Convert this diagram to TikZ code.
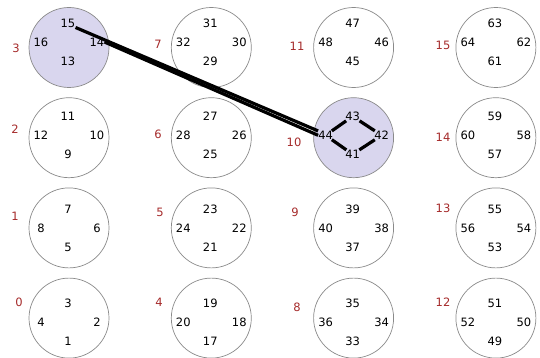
\documentclass[tikz,border=0pt]{standalone}
\usepackage{fontspec}
\setmainfont{DejaVu Sans}
\definecolor{GridRing}{HTML}{8A8A8A}
\definecolor{GridGroup}{HTML}{A52A2A}
\definecolor{GridPick}{HTML}{D9D6EE}
\pgfdeclarelayer{bottom}
\pgfdeclarelayer{links}
\pgfsetlayers{bottom,links,main}
\tikzset{
  grid ring/.style={circle, draw=GridRing, line width=.7pt, minimum size=80pt, inner sep=0pt},
  grid num/.style={font=\fontsize{11.5}{13}\selectfont, text=black, inner sep=0pt},
  grid group/.style={font=\fontsize{11.5}{13}\selectfont, text=GridGroup, inner sep=0pt},
  grid link/.style={draw=black, line width=3.2pt},
}

\begin{document}
\begin{tikzpicture}[x=1pt,y=-1pt]
  \useasboundingbox (0,0) rectangle (540,358);

  % Sixteen rings, four numbers each: bottom, right, top, left.
  \foreach \g in {0,...,15} {
    \pgfmathtruncatemacro\col{\g/4}
    \pgfmathtruncatemacro\row{3-mod(\g,4)}
    \pgfmathsetmacro\cx{69+142.3*\col}
    \pgfmathsetmacro\cy{47.5+90.2*\row}
    \pgfmathsetmacro\ly{42+93.3*\row}
    \pgfmathtruncatemacro\nb{4*\g+1}
    \pgfmathtruncatemacro\nr{4*\g+2}
    \pgfmathtruncatemacro\nt{4*\g+3}
    \pgfmathtruncatemacro\nl{4*\g+4}
    \ifnum\g=3 \def\ringfill{GridPick}\else\ifnum\g=10 \def\ringfill{GridPick}\else\def\ringfill{none}\fi\fi
    \begin{pgfonlayer}{bottom}
      \node[grid ring, fill=\ringfill] (g\g) at (\cx,\cy) {};
    \end{pgfonlayer}
    \node[grid num] (n\nb) at (\cx-1,\ly+19) {\nb};
    \node[grid num] (n\nr) at (\cx+28,\ly) {\nr};
    \node[grid num] (n\nt) at (\cx-1,\ly-19) {\nt};
    \node[grid num] (n\nl) at (\cx-28,\ly) {\nl};
  }

  % Group indices beside the rings.
  \foreach \g/\x/\y in {0/19/302, 1/15/216, 2/15/129, 3/16/48,
                        4/159/302, 5/160/212, 6/158/134, 7/158/44,
                        8/297/307, 9/295/212, 10/294/142, 11/297/46,
                        12/443/302, 13/443/208, 14/443/137, 15/443/45}
    \node[grid group] (lab\g) at (\x,\y) {\g};

  % Selected links.
  \begin{pgfonlayer}{links}
    \draw[grid link] (n15.south east) -- (n44.north west);
    \draw[grid link] (n14.east) -- (n44.west);
    \foreach \a/\b in {44/43, 43/42, 42/41, 41/44}
      \draw[grid link] (n\a) -- (n\b);
  \end{pgfonlayer}
\end{tikzpicture}
\end{document}
